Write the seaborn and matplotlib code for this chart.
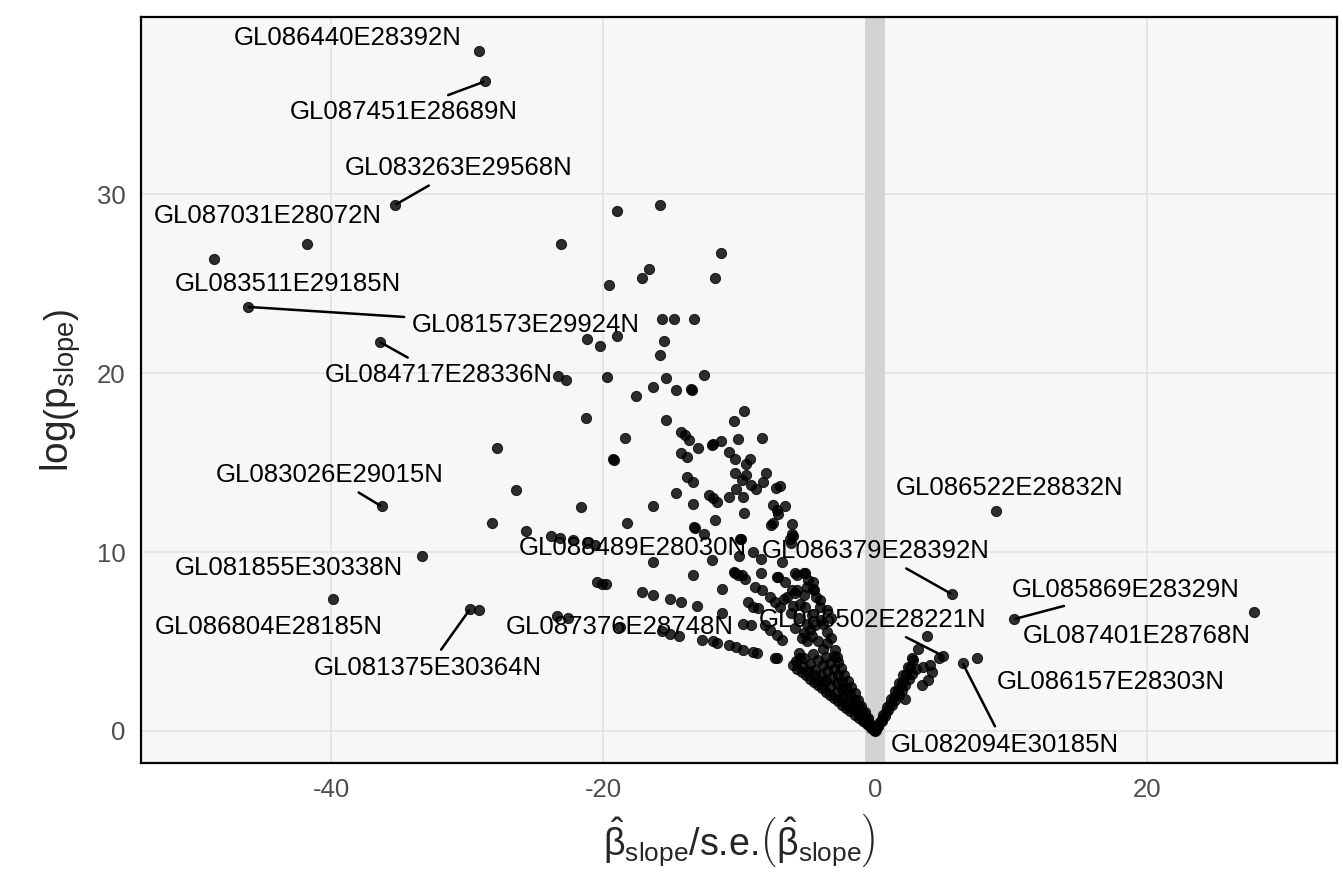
import pandas as pd
import matplotlib
matplotlib.use('Agg')
import matplotlib.pyplot as plt
import seaborn as sns

# =============================================================================
# Data (z statistic of slope vs log p)
# =============================================================================

# scattered points (outside the dense V at the origin)
x_scatter = [
    -29.15, -28.7, -35.3, -41.75, -48.6, -46.15, -36.45, -36.3, -33.3, -39.9,
    -29.8, -29.15,
    -19.0, -15.8, -23.1, -11.3, -16.6, -17.1, -19.6, -11.8,
    -15.7, -14.8, -13.3,
    -21.2, -19.0, -20.2, -15.5, -15.8,
    -23.3, -22.7, -19.7, -15.4, -12.6, -16.3, -14.6, -13.5, -13.45, -17.6,
    -9.6, -10.4, -21.25, -15.4,
    -14.3, -14.0, -13.65, -18.4, -12.0, -11.9, -11.3, -10.1, -8.3, -13.0,
    -27.8, -19.3, -19.2, -14.3, -13.8, -10.7, -10.3, -9.2, -9.5, -10.3,
    -9.5, -8.0, -13.8,
    -13.35, -9.8, -9.1, -8.75, -8.25, -7.3, -7.0, -10.2, -9.7, -10.75,
    -14.6, -12.2, -11.9, -11.6, -13.4, -16.3, -21.6, -7.5, -7.2, -7.1,
    -6.6, -9.6, -11.8, -18.25, -7.65, -6.1, -13.3, -13.25, -12.55, -9.9,
    -9.85, -6.1, -6.25, -6.05, -6.2, -11.95, -16.3, -10.0, -9.0, -8.4,
    -13.4, -10.3, -9.8, -8.4, -7.2, -5.75,
    -26.4, -28.2, -25.7, -23.8, -23.2, -22.2, -21.15, -20.6,
    -20.45, -20.1, -19.8, -17.1, -16.3, -15.1, -14.3, -13.1, -11.25,
    -23.4, -22.6, -18.75, -15.7, -15.1, -14.45, -12.7, -11.9, -11.6, -10.7,
    -10.2, -9.7, -9.0, -8.7, -7.35, -7.2, -11.25, -9.7, -9.1, -9.3,
    -8.95, -8.6, -10.4, -10.05, -9.55,
    -8.8, -8.3, -7.7, -7.35, -7.0, -8.1, -7.7, -7.2, -6.85, -7.5,
    -6.8, -7.15, -5.15, -4.9, -4.5, -4.3, -4.05, -6.5, -5.9, -5.5,
    -5.15, -5.9, -5.25, -4.8, -4.4, -3.55, -3.2, -2.95, -2.8, -5.75,
    -5.25, -4.55, -4.05, -3.55, -3.2, -5.9, -5.25, -4.55, -5.0, -6.6,
    -6.1, -6.7, -3.8, -4.2, -4.6, -5.0, -5.4, -3.5, -4.0, -4.6,
    -5.0, -5.6, -6.2, -6.0, -3.8,
    8.9, 5.65, 10.25, 27.9, 3.8, 3.15, 2.8, 5.0, 4.75, 6.45,
    7.5, 4.05, 3.55, 3.9, 3.45, 4.2, 2.2,
]
y_scatter = [
    38.0, 36.3, 29.4, 27.2, 26.4, 23.7, 21.75, 12.55, 9.75, 7.4,
    6.8, 6.75,
    29.07, 29.4, 27.2, 26.7, 25.8, 25.3, 24.95, 25.3,
    23.0, 23.0, 23.0,
    21.9, 22.1, 21.5, 21.8, 21.0,
    19.85, 19.6, 19.8, 19.7, 19.9, 19.2, 19.05, 19.1, 19.05, 18.7,
    17.9, 17.35, 17.5, 17.4,
    16.7, 16.55, 16.25, 16.35, 16.0, 16.05, 16.2, 16.3, 16.4, 15.8,
    15.8, 15.2, 15.15, 15.55, 15.3, 15.6, 15.2, 15.2, 14.9, 14.4,
    14.3, 14.4, 14.2,
    13.9, 14.0, 13.75, 13.5, 13.9, 13.6, 13.7, 13.5, 13.1, 13.1,
    13.3, 13.2, 13.0, 12.8, 12.7, 12.6, 12.5, 12.65, 12.35, 12.1,
    12.6, 12.2, 11.8, 11.6, 11.5, 11.55, 11.4, 11.35, 11.0, 10.75,
    10.7, 11.0, 10.7, 10.9, 10.5, 9.55, 9.45, 9.8, 10.0, 9.6,
    8.7, 8.85, 8.7, 8.8, 8.6, 8.7,
    13.45, 11.6, 11.2, 10.9, 10.8, 10.65, 10.5, 10.4,
    8.3, 8.2, 8.2, 7.75, 7.6, 7.4, 7.2, 7.0, 7.95,
    6.4, 6.3, 5.8, 5.6, 5.4, 5.3, 5.1, 5.0, 4.9, 4.8,
    4.7, 4.55, 4.4, 4.35, 4.05, 4.05, 6.6, 6.0, 5.9, 7.2,
    6.95, 6.85, 8.9, 8.7, 8.5,
    8.05, 7.85, 7.5, 7.2, 6.95, 5.9, 5.65, 5.35, 5.1, 11.6,
    9.45, 8.6, 8.8, 8.45, 7.9, 7.5, 6.95, 7.5, 7.7, 7.1,
    6.95, 5.75, 5.45, 5.65, 5.9, 5.55, 5.2, 4.5, 4.15, 7.9,
    7.6, 7.95, 7.3, 6.75, 6.3, 8.8, 8.8, 8.35, 8.05, 8.3,
    7.9, 7.4, 4.6, 5.0, 5.3, 5.0, 5.2, 4.9, 6.2, 6.5,
    6.0, 6.3, 6.6, 7.0, 6.0,
    12.3, 7.65, 6.25, 6.65, 5.3, 4.6, 3.95, 4.2, 4.05, 3.8,
    4.1, 3.7, 3.6, 2.85, 2.55, 3.3, 1.8,
]

# dense V around zero (left and right arms), estimated along the visible rays
x_dense = [
    0.0, 0.05, -0.1,
    -0.3, -0.6, -0.9, -1.2, -1.5, -1.8, -2.1, -2.4, -2.7, -3.0,
    -3.3, -3.6, -3.9, -4.2, -4.5, -4.8, -5.1, -5.4, -5.7, -6.0,
    -0.4, -0.8, -1.2, -1.6, -2.0, -2.4, -2.8, -3.2, -3.6, -4.0,
    -4.4, -4.8, -5.2, -5.6,
    -0.35, -0.7, -1.05, -1.4, -1.75, -2.1, -2.45, -2.8, -3.15, -3.5,
    -3.85, -4.2, -4.55,
    -0.3, -0.6, -0.9, -1.2, -1.5, -1.8, -2.1, -2.4, -2.7, -3.0,
    -3.3, -3.6,
    -0.25, -0.5, -0.75, -1.0, -1.25, -1.5, -1.75, -2.0, -2.25, -2.5,
    -2.75, -3.0,
    -4.9, -5.3, -5.8, -4.4, -3.9, -5.5,
    0.25, 0.5, 0.75, 1.0, 1.25, 1.5, 1.75, 2.0, 2.25, 2.5, 2.75, 3.0,
    0.2, 0.5, 0.8, 1.1, 1.4, 1.7, 2.0, 2.3, 2.6,
    0.3, 0.6, 0.9, 1.2, 1.5, 1.8, 2.1, 2.4, 2.7,
]
y_dense = [
    0.0, 0.03, 0.06,
    0.18, 0.37, 0.55, 0.73, 0.92, 1.10, 1.28, 1.46, 1.65, 1.83,
    2.01, 2.20, 2.38, 2.56, 2.75, 2.93, 3.11, 3.29, 3.48, 3.66,
    0.31, 0.62, 0.94, 1.25, 1.56, 1.87, 2.18, 2.50, 2.81, 3.12,
    3.43, 3.74, 4.06, 4.37,
    0.33, 0.67, 1.0, 1.33, 1.66, 2.0, 2.33, 2.66, 2.99, 3.33,
    3.66, 3.99, 4.32,
    0.35, 0.69, 1.04, 1.38, 1.73, 2.07, 2.42, 2.76, 3.11, 3.45,
    3.80, 4.14,
    0.35, 0.7, 1.05, 1.4, 1.75, 2.1, 2.45, 2.8, 3.15, 3.5,
    3.85, 4.2,
    3.35, 3.6, 3.9, 3.1, 2.8, 4.1,
    0.29, 0.58, 0.86, 1.15, 1.44, 1.73, 2.01, 2.3, 2.59, 2.88, 3.16, 3.45,
    0.27, 0.68, 1.08, 1.49, 1.89, 2.3, 2.7, 3.11, 3.51,
    0.45, 0.9, 1.35, 1.8, 2.25, 2.7, 3.15, 3.6, 4.05,
]

# labelled loci: point position, label position, whether a segment shows
label_names = [
    'GL086440E28392N', 'GL087451E28689N', 'GL083263E29568N',
    'GL087031E28072N', 'GL083511E29185N', 'GL081573E29924N',
    'GL084717E28336N', 'GL083026E29015N', 'GL081855E30338N',
    'GL086804E28185N', 'GL081375E30364N', 'GL088489E28030N',
    'GL087376E28748N', 'GL086379E28392N', 'GL086502E28221N',
    'GL086522E28832N', 'GL085869E28329N', 'GL087401E28768N',
    'GL086157E28303N', 'GL082094E30185N',
]
label_px = [-29.15, -28.7, -35.3, -41.75, -48.6, -46.15, -36.45, -36.3, -33.3,
            -39.9, -29.8, -11.95, -18.75, 5.65, 5.0, 8.9, 10.25, 27.9, 7.5,
            6.45]
label_py = [38.0, 36.3, 29.4, 27.2, 26.4, 23.7, 21.75, 12.55, 9.75, 7.4, 6.8,
            9.55, 5.8, 7.65, 4.2, 12.3, 6.25, 6.65, 4.1, 3.8]
label_tx = [-38.8, -34.7, -30.6, -44.7, -43.2, -25.7, -32.1, -40.1, -43.1,
            -44.6, -32.9, -17.8, -18.75, 0.05, -0.2, 9.9, 18.45, 19.3, 17.35,
            9.55]
label_ty = [38.75, 34.6, 31.45, 28.8, 25.0, 22.7, 19.9, 14.3, 9.1, 5.8, 3.5,
            10.2, 5.8, 10.05, 6.2, 13.6, 7.9, 5.3, 2.75, -0.8]
label_seg = [False, True, True, False, False, True, True, True, False, False,
             True, False, False, True, True, False, True, False, False, True]

df = pd.DataFrame({'z': x_scatter + x_dense, 'logp': y_scatter + y_dense})

# =============================================================================
# Plot
# =============================================================================

sns.set_style('white', {'axes.facecolor': '#F7F7F7'})
plt.rcParams['font.family'] = ['Liberation Sans', 'DejaVu Sans']
plt.rcParams['mathtext.fontset'] = 'custom'
plt.rcParams['mathtext.rm'] = 'Liberation Sans'
plt.rcParams['mathtext.it'] = 'Liberation Sans:italic'
plt.rcParams['mathtext.bf'] = 'Liberation Sans:bold'
plt.rcParams['axes.unicode_minus'] = False

fig, ax = plt.subplots(figsize=(13.43, 8.76), dpi=100)
fig.subplots_adjust(left=0.105, right=0.9955, bottom=0.129, top=0.9806)

ax.axvspan(-0.75, 0.75, color='#D3D3D3', lw=0, zorder=1)
sns.scatterplot(data=df, x='z', y='logp', color='black', alpha=0.82, s=54,
                edgecolor='black', linewidth=0.7, ax=ax, zorder=3)

for name, px, py, tx, ty, seg in zip(label_names, label_px, label_py,
                                     label_tx, label_ty, label_seg):
    arrow = dict(arrowstyle='-', color='black', lw=1.8,
                 shrinkA=3, shrinkB=1) if seg else None
    ax.annotate(name, xy=(px, py), xytext=(tx, ty), textcoords='data',
                ha='center', va='center', fontsize=18.5, color='black',
                arrowprops=arrow, zorder=4)

ax.set_xlim(-54.0, 34.0)
ax.set_ylim(-1.79, 39.9)
ax.set_xticks([-40, -20, 0, 20])
ax.set_yticks([0, 10, 20, 30])
ax.grid(True, color='#E6E6E6', lw=1.4)
ax.set_axisbelow(True)
ax.tick_params(length=0, labelsize=18.5, labelcolor='#4D4D4D', pad=11)
for sp in ax.spines.values():
    sp.set_color('black')
    sp.set_linewidth(1.6)

ax.set_xlabel(r'$\hat{\mathrm{\beta}}_{\mathrm{slope}}$/s.e.'
              r'$\left(\hat{\mathrm{\beta}}_{\mathrm{slope}}\right)$',
              fontsize=27, labelpad=6)
ax.set_ylabel(r'$\mathrm{log}\left(\mathrm{p}_{\mathrm{slope}}\right)$',
              fontsize=28, labelpad=10)

fig.savefig('out.png', dpi=100)
